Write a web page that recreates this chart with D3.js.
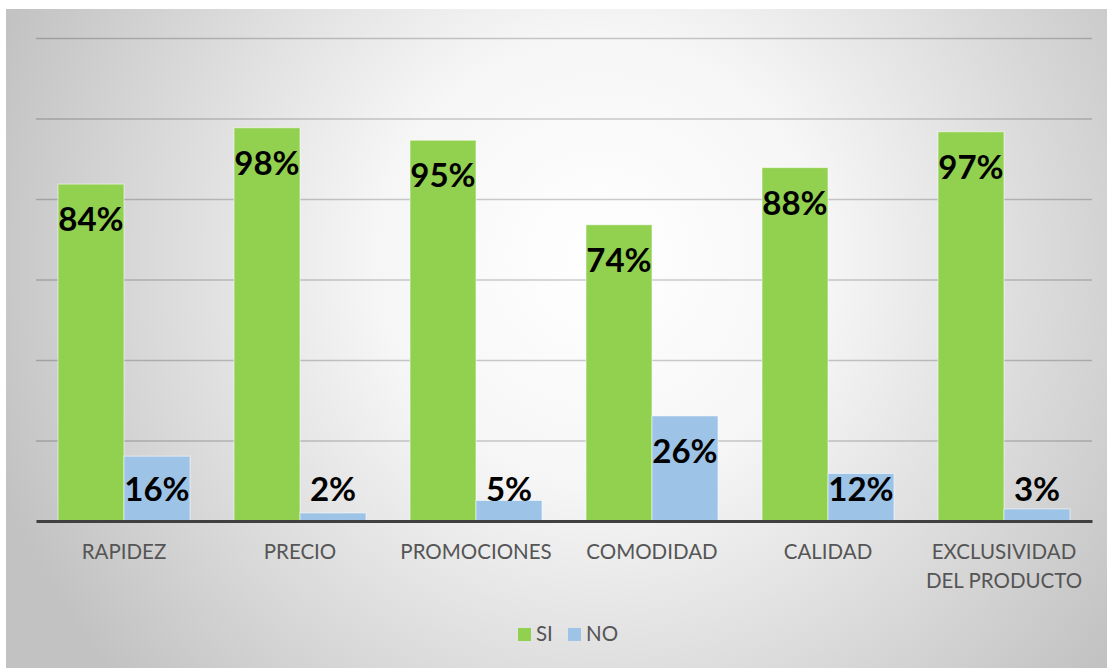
<!DOCTYPE html>
<html>
<head>
<meta charset="utf-8">
<script src="https://cdn.jsdelivr.net/npm/d3@7"></script>
<style>
  html, body { margin: 0; padding: 0; background: #ffffff; }
  svg { display: block; }
</style>
</head>
<body>
<svg id="chart" width="1107" height="668"></svg>
<script>
const categories = [["RAPIDEZ"], ["PRECIO"], ["PROMOCIONES"], ["COMODIDAD"], ["CALIDAD"], ["EXCLUSIVIDAD", "DEL PRODUCTO"]];
const seriesNames = ["SI", "NO"];
const siValues = [0.837, 0.977, 0.946, 0.736, 0.878, 0.967];
const noValues = [0.161, 0.02, 0.051, 0.261, 0.118, 0.03];
const yTicks = [0, 0.2, 0.4, 0.6, 0.8, 1.0, 1.2];
const colors = { SI: "#92D050", NO: "#9DC3E6" };

const svg = d3.select("#chart");
const W = 1107, H = 668;

// background with radial gradient
const defs = svg.append("defs");
const grad = defs.append("radialGradient")
  .attr("id", "bg").attr("gradientUnits", "userSpaceOnUse")
  .attr("cx", 600).attr("cy", 260).attr("r", 640);
grad.append("stop").attr("offset", "0").attr("stop-color", "#ffffff");
grad.append("stop").attr("offset", "0.35").attr("stop-color", "#f6f6f6");
grad.append("stop").attr("offset", "1").attr("stop-color", "#c2c2c2");

svg.append("rect").attr("x", 6).attr("y", 9).attr("width", W - 6).attr("height", H - 9)
  .attr("fill", "url(#bg)");

const catKeys = categories.map(c => c.join(" "));
const x0 = d3.scaleBand().domain(catKeys).range([36, 1092]).paddingInner(0).paddingOuter(0);
const x1 = d3.scaleBand().domain(seriesNames).range([0, x0.bandwidth()]).paddingInner(0).paddingOuter(1/3);
const y = d3.scaleLinear().domain([0, 1.2]).range([521, 38]);

// gridlines
const yAxis = d3.axisLeft(y).tickValues(yTicks.slice(1)).tickSize(-(1092 - 36)).tickFormat("");
const gy = svg.append("g").attr("transform", "translate(36,0)").call(yAxis);
gy.select(".domain").remove();
gy.selectAll(".tick line").attr("stroke", "rgba(0,0,0,0.2)").attr("stroke-width", 1.5);

const data = catKeys.map((k, i) => ({ key: k, lines: categories[i], vals: [
  { s: "SI", v: siValues[i] }, { s: "NO", v: noValues[i] }
]}));

const groups = svg.append("g").selectAll("g").data(data).join("g")
  .attr("transform", d => `translate(${x0(d.key)},0)`);

groups.selectAll("rect").data(d => d.vals).join("rect")
  .attr("x", d => x1(d.s))
  .attr("y", d => y(d.v))
  .attr("width", x1.bandwidth())
  .attr("height", d => y(0) - y(d.v))
  .attr("fill", d => colors[d.s])
  .attr("stroke", "rgba(255,255,255,0.55)")
  .attr("stroke-width", 1);

groups.selectAll("text.lbl").data(d => d.vals).join("text")
  .attr("class", "lbl")
  .attr("x", d => x1(d.s) + x1.bandwidth() / 2)
  .attr("y", d => Math.min(y(d.v) + 35, 489) + 12)
  .attr("text-anchor", "middle")
  .attr("font-family", "Lato, 'Open Sans', sans-serif")
  .attr("font-weight", "bold")
  .attr("font-size", 33)
  .attr("fill", "#000000")
  .text(d => d3.format(".0%")(d.v));

// baseline
const xAxis = d3.axisBottom(x0).tickSize(0).tickFormat("");
const gx = svg.append("g").attr("transform", "translate(0,521)").call(xAxis);
gx.select(".domain").attr("stroke", "#404040").attr("stroke-width", 3);

// category labels
groups.each(function(d) {
  const t = d3.select(this).append("text")
    .attr("text-anchor", "middle")
    .attr("font-family", "Lato, 'Open Sans', sans-serif")
    .attr("font-size", 20.5)
    .attr("fill", "#555555");
  d.lines.forEach((ln, j) => {
    t.append("tspan").attr("x", x0.bandwidth() / 2).attr("y", 559 + j * 29).text(ln);
  });
});

// legend
const legend = svg.append("g");
const legendItems = [{ s: "SI", x: 518 }, { s: "NO", x: 568 }];
legendItems.forEach(it => {
  legend.append("rect").attr("x", it.x).attr("y", 628).attr("width", 13).attr("height", 13)
    .attr("fill", colors[it.s]);
  legend.append("text").attr("x", it.x + 18).attr("y", 641)
    .attr("font-family", "Lato, 'Open Sans', sans-serif")
    .attr("font-size", 20.5).attr("fill", "#555555").text(it.s);
});
</script>
</body>
</html>
